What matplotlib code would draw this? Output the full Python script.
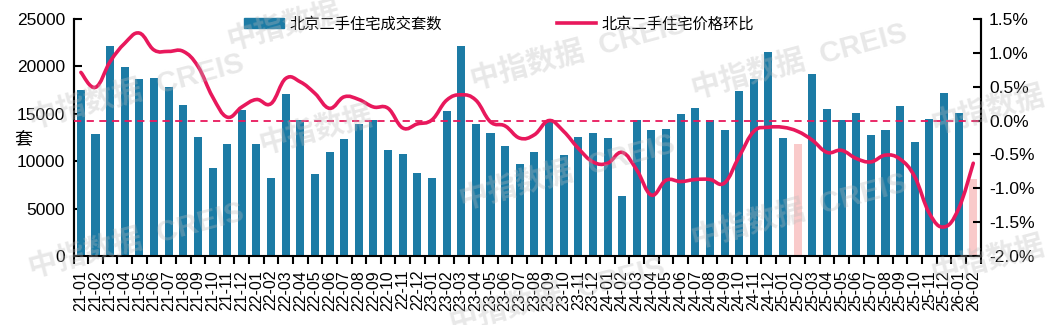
import numpy as np
import matplotlib
matplotlib.use("Agg")
import matplotlib.pyplot as plt
from matplotlib.path import Path
from matplotlib.patches import PathPatch, Patch
from matplotlib.lines import Line2D
from matplotlib.ticker import FuncFormatter

plt.rcParams['font.family'] = ['Liberation Sans', 'Noto Sans CJK SC', 'DejaVu Sans']

# months 21-01 .. 26-02
months = ["%02d-%02d" % (21 + i // 12, i % 12 + 1) for i in range(62)]

# 北京二手住宅成交套数
volume = [17500, 12900, 22100, 19900, 18700, 18800, 17800, 15900, 12600, 9300, 11800, 15400,
          11800, 8200, 17100, 14300, 8600, 11000, 12300, 13900, 14350, 11200, 10800, 8800,
          8200, 15300, 22100, 13900, 13000, 11600, 9700, 11000, 14250, 10700, 12600, 13000,
          12450, 6300, 14300, 13300, 13400, 15000, 15600, 14350, 13300, 17400, 18700, 21500,
          12450, 11800, 19200, 15500, 14350, 15100, 12800, 13300, 15800, 12050, 14450, 17200,
          15100, 8100]

# 北京二手住宅价格环比 (%)
price_mom = [0.71, 0.49, 0.87, 1.14, 1.29, 1.04, 1.02, 1.02, 0.80, 0.35, 0.05, 0.20,
             0.31, 0.25, 0.62, 0.57, 0.40, 0.18, 0.35, 0.31, 0.20, 0.18, -0.11, -0.05,
             0.01, 0.30, 0.38, 0.30, -0.02, -0.08, -0.26, -0.21, 0.00, -0.16, -0.41, -0.61,
             -0.63, -0.47, -0.73, -1.10, -0.88, -0.90, -0.87, -0.87, -0.92, -0.53, -0.16, -0.10,
             -0.10, -0.16, -0.29, -0.47, -0.44, -0.56, -0.61, -0.51, -0.57, -0.83, -1.37, -1.57,
             -1.30, -0.63]

# months shown in a lighter colour
light_months = ["25-02", "26-02"]

bar_blue = "#1C7BA5"
bar_pink = "#F9CACA"
line_red = "#E8185C"


def smooth_path(xs, ys, t=0.2):
    # Catmull-Rom style bezier through the points (like Excel smoothed lines)
    n = len(xs)
    verts = [(xs[0], ys[0])]
    codes = [Path.MOVETO]
    for i in range(n - 1):
        x0, y0 = (xs[i - 1], ys[i - 1]) if i > 0 else (xs[i], ys[i])
        x3, y3 = (xs[i + 2], ys[i + 2]) if i + 2 < n else (xs[i + 1], ys[i + 1])
        x1, y1 = xs[i], ys[i]
        x2, y2 = xs[i + 1], ys[i + 1]
        c1 = (x1 + (x2 - x0) * t, y1 + (y2 - y0) * t)
        c2 = (x2 - (x3 - x1) * t, y2 - (y3 - y1) * t)
        verts += [c1, c2, (x2, y2)]
        codes += [Path.CURVE4] * 3
    return Path(verts, codes)


fig = plt.figure(figsize=(10.51, 3.25), dpi=100)
ax = fig.add_axes([0.070, 0.212, 0.863, 0.730])
ax2 = ax.twinx()

x = np.arange(len(months))
colors = [bar_pink if m in light_months else bar_blue for m in months]
ax.bar(x, volume, width=0.55, color=colors, zorder=2)
ax.set_xlim(-0.5, len(months) - 0.5)
ax.set_ylim(0, 25000)
ax.set_yticks(np.arange(0, 25001, 5000))

ax2.axhline(0, color=line_red, lw=1.3, ls=(0, (4, 3)), zorder=3)
ax2.add_patch(PathPatch(smooth_path(x, price_mom), fill=False, edgecolor=line_red, lw=2.6,
                        capstyle='round', zorder=4))
ax2.set_ylim(-2.0, 1.5)
ax2.set_yticks(np.arange(-2.0, 1.51, 0.5))
ax2.yaxis.set_major_formatter(FuncFormatter(lambda v, p: "%.1f%%" % v))

ax.set_xticks(x)
ax.set_xticklabels(months, rotation=90, fontsize=11.5)
ax.set_xticks(np.arange(-0.5, len(months), 1), minor=True)
ax.tick_params(axis='x', which='major', length=0, pad=10)
ax.tick_params(axis='x', which='minor', length=6, width=1.5, direction='out')
ax.tick_params(axis='y', direction='in', length=6, width=1.5, labelsize=12.5, pad=6)
ax2.tick_params(axis='y', direction='in', length=6, width=1.5, labelsize=12.5, pad=6)

for a in (ax, ax2):
    a.spines['top'].set_visible(False)
    for s in ('left', 'right', 'bottom'):
        a.spines[s].set_linewidth(1.5)
ax2.spines['bottom'].set_visible(False)

ax.set_ylabel("套", rotation=0, fontsize=13, labelpad=0)
ax.yaxis.set_label_coords(-0.055, 0.45)

handles = [Patch(color=bar_blue), Line2D([0], [0], color=line_red, lw=2.6)]
fig.legend(handles, ["北京二手住宅成交套数", "北京二手住宅价格环比"], loc='upper center',
           bbox_to_anchor=(0.475, 0.99), ncol=2, frameon=False, fontsize=11,
           columnspacing=7.5, handlelength=2.6, handleheight=0.65, handletextpad=0.35)

# watermarks
wm = [(0.55, 0.84, "中指数据  CREIS"), (0.13, 0.72, "中指数据  CREIS"), (0.30, 0.60, "中指数据"),
      (0.54, 0.47, "中指数据  CREIS"), (0.76, 0.81, "中指数据  CREIS"), (0.76, 0.35, "中指数据  CREIS"),
      (0.13, 0.26, "中指数据  CREIS"), (0.94, 0.66, "中指数据"), (0.94, 0.20, "中指数据"),
      (0.27, 0.92, "中指数据"), (0.53, 0.09, "中指数据  CREIS")]
for wx, wy, wt in wm:
    fig.text(wx, wy, wt, fontsize=21, color="#BBBBBB", alpha=0.33, rotation=15,
             ha='center', va='center', fontweight='bold', zorder=10)

fig.savefig("out.png", dpi=100)
